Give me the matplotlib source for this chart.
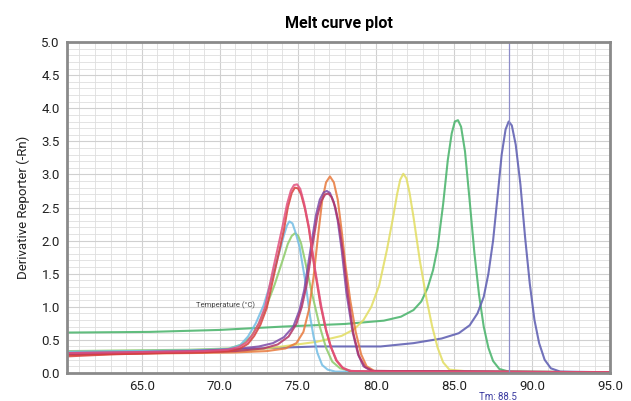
import matplotlib
matplotlib.use("Agg")
import matplotlib.pyplot as plt
from matplotlib.ticker import MultipleLocator

plt.rcParams['font.family'] = ['Roboto', 'DejaVu Sans']

# Melt curves: temperature (°C) vs derivative reporter
temp_pink = [60.2, 63, 66, 69, 70.5, 71.2, 71.7, 72.1, 72.5, 72.9, 73.4, 74.0, 74.3, 74.55, 74.75, 74.95, 75.15, 75.4, 75.7, 76.1, 76.5, 76.8, 77.1, 77.5, 77.9, 78.4, 80, 95]
drv_pink = [0.30, 0.31, 0.32, 0.33, 0.35, 0.39, 0.46, 0.58, 0.75, 1.00, 1.56, 2.20, 2.55, 2.76, 2.84, 2.85, 2.78, 2.56, 2.21, 1.56, 1.00, 0.66, 0.40, 0.18, 0.07, 0.03, 0.02, 0.01]

temp_red = [60.2, 63, 66, 69, 70.6, 71.3, 71.8, 72.2, 72.6, 73.0, 73.5, 74.1, 74.35, 74.6, 74.8, 75.0, 75.2, 75.45, 75.7, 76.05, 76.45, 76.8, 77.1, 77.45, 77.85, 78.3, 80, 95]
drv_red = [0.25, 0.28, 0.30, 0.31, 0.33, 0.37, 0.44, 0.56, 0.73, 0.98, 1.52, 2.16, 2.50, 2.72, 2.80, 2.79, 2.70, 2.48, 2.18, 1.60, 1.02, 0.64, 0.40, 0.19, 0.08, 0.03, 0.02, 0.01]

temp_sky = [60.2, 64, 68, 70.5, 71.3, 71.8, 72.3, 72.8, 73.3, 73.85, 74.1, 74.3, 74.45, 74.65, 74.85, 75.1, 75.46, 75.78, 76.0, 76.25, 76.55, 76.9, 77.4, 95]
drv_sky = [0.32, 0.33, 0.34, 0.36, 0.42, 0.55, 0.75, 1.02, 1.40, 1.86, 2.08, 2.23, 2.29, 2.26, 2.12, 1.91, 1.40, 0.85, 0.55, 0.30, 0.12, 0.05, 0.02, 0.01]

temp_lime = [60.2, 64, 68, 70.6, 71.4, 72.0, 72.5, 73.0, 73.5, 74.1, 74.35, 74.6, 74.8, 75.0, 75.2, 75.45, 75.9, 76.4, 76.8, 77.2, 77.7, 78.5, 95]
drv_lime = [0.33, 0.34, 0.35, 0.37, 0.43, 0.55, 0.75, 1.02, 1.33, 1.76, 1.95, 2.07, 2.11, 2.08, 1.96, 1.70, 1.20, 0.70, 0.38, 0.17, 0.07, 0.02, 0.01]

temp_violet = [60.2, 64, 68, 71, 72.5, 73.4, 74.1, 74.7, 75.1, 75.4, 75.8, 76.15, 76.4, 76.65, 76.85, 77.05, 77.3, 77.55, 77.8, 78.1, 78.5, 78.85, 79.2, 79.7, 95]
drv_violet = [0.30, 0.31, 0.33, 0.36, 0.40, 0.45, 0.54, 0.70, 0.95, 1.25, 1.86, 2.38, 2.62, 2.73, 2.75, 2.72, 2.58, 2.30, 1.86, 1.22, 0.62, 0.28, 0.10, 0.03, 0.01]

temp_crimson = [60.2, 64, 68, 71, 72.8, 73.7, 74.4, 74.9, 75.25, 75.55, 75.9, 76.25, 76.5, 76.75, 76.95, 77.15, 77.4, 77.65, 77.9, 78.2, 78.55, 78.9, 79.3, 79.8, 95]
drv_crimson = [0.28, 0.29, 0.31, 0.33, 0.37, 0.43, 0.55, 0.74, 1.00, 1.32, 1.88, 2.38, 2.60, 2.70, 2.71, 2.66, 2.50, 2.22, 1.80, 1.18, 0.60, 0.26, 0.09, 0.03, 0.01]

temp_orange = [60.2, 64, 68, 71, 73, 74.2, 74.9, 75.35, 75.7, 76.0, 76.3, 76.55, 76.8, 77.05, 77.3, 77.55, 77.8, 78.05, 78.35, 78.7, 79.05, 79.4, 79.9, 95]
drv_orange = [0.27, 0.29, 0.30, 0.31, 0.33, 0.37, 0.45, 0.62, 0.95, 1.45, 2.10, 2.60, 2.88, 2.97, 2.88, 2.62, 2.15, 1.62, 1.10, 0.62, 0.28, 0.10, 0.03, 0.01]

temp_yellow = [60.2, 64, 68, 72, 74, 76.2, 77.8, 78.6, 79.2, 79.7, 80.2, 80.7, 81.1, 81.35, 81.55, 81.75, 81.95, 82.15, 82.4, 82.8, 83.25, 83.6, 83.95, 84.3, 84.7, 86, 95]
drv_yellow = [0.30, 0.31, 0.32, 0.34, 0.40, 0.47, 0.56, 0.66, 0.80, 1.00, 1.32, 1.86, 2.36, 2.70, 2.92, 3.01, 2.94, 2.72, 2.36, 1.71, 1.10, 0.70, 0.38, 0.16, 0.05, 0.02, 0.01]

temp_green = [60.2, 65.5, 70, 74, 78, 80.5, 81.6, 82.4, 82.9, 83.3, 83.65, 83.95, 84.3, 84.6, 84.85, 85.05, 85.25, 85.45, 85.7, 86.0, 86.3, 86.6, 86.9, 87.2, 87.5, 87.9, 88.5, 95]
drv_green = [0.61, 0.62, 0.65, 0.70, 0.74, 0.79, 0.85, 0.95, 1.08, 1.28, 1.55, 1.90, 2.55, 3.22, 3.62, 3.80, 3.82, 3.72, 3.35, 2.60, 1.82, 1.18, 0.70, 0.38, 0.18, 0.06, 0.02, 0.01]

temp_indigo = [60.2, 65, 70, 76.2, 80.3, 82.4, 84.2, 85.3, 86.0, 86.5, 86.9, 87.2, 87.5, 87.8, 88.05, 88.3, 88.5, 88.7, 88.95, 89.25, 89.55, 89.85, 90.15, 90.45, 90.8, 91.2, 91.8, 95]
drv_indigo = [0.30, 0.32, 0.35, 0.40, 0.40, 0.45, 0.52, 0.60, 0.72, 0.90, 1.15, 1.50, 2.00, 2.70, 3.30, 3.68, 3.80, 3.74, 3.45, 2.85, 2.05, 1.35, 0.80, 0.45, 0.20, 0.07, 0.02, 0.01]

tm_value = 88.5
x_ticks = [65.0, 70.0, 75.0, 80.0, 85.0, 90.0, 95.0]
y_ticks = [0.0, 0.5, 1.0, 1.5, 2.0, 2.5, 3.0, 3.5, 4.0, 4.5, 5.0]

curves = [
    (temp_green, drv_green, "#45b268"),
    (temp_indigo, drv_indigo, "#5a5ab0"),
    (temp_yellow, drv_yellow, "#e2dd60"),
    (temp_lime, drv_lime, "#8ccb68"),
    (temp_sky, drv_sky, "#72bce4"),
    (temp_orange, drv_orange, "#e8793c"),
    (temp_violet, drv_violet, "#7d4aa8"),
    (temp_crimson, drv_crimson, "#b23466"),
    (temp_red, drv_red, "#d8403c"),
    (temp_pink, drv_pink, "#e2507e"),
]

fig = plt.figure(figsize=(6.31, 4.01), dpi=100)
ax = fig.add_axes([0.106, 0.070, 0.861, 0.825])

ax.set_xlim(60.2, 95)
ax.set_ylim(0, 5)

# fine grid like the instrument software
ax.xaxis.set_major_locator(MultipleLocator(5))
ax.xaxis.set_minor_locator(MultipleLocator(1))
ax.yaxis.set_major_locator(MultipleLocator(0.5))
ax.yaxis.set_minor_locator(MultipleLocator(0.1))
ax.grid(True, which="major", color="#d0d0d0", linewidth=0.8)
ax.grid(True, which="minor", color="#dedede", linewidth=0.6)
ax.set_axisbelow(True)

for t, d, c in curves:
    ax.plot(t, d, color=c, linewidth=1.5, alpha=0.85, solid_joinstyle="round")

ax.axvline(tm_value, color="#8c8cc8", linewidth=0.9)

ax.set_xticks(x_ticks)
ax.set_xticklabels([f"{v:.1f}" for v in x_ticks])
ax.set_yticks(y_ticks)
ax.set_yticklabels([f"{v:.1f}" for v in y_ticks])
ax.tick_params(which="both", length=0, labelsize=9.5, colors="#222222", pad=5)

for s in ax.spines.values():
    s.set_color("#8a8a8a")
    s.set_linewidth(2)

ax.set_ylabel("Derivative Reporter (-Rn)", fontsize=9.5, color="#222222", labelpad=8)
ax.set_title("Melt curve plot", fontsize=11.5, fontweight="semibold", pad=10)

ax.text(68.5, 1.03, "Temperature (°C)", fontsize=5.5, color="#444444", va="center")
ax.text(87.8, -0.37, f"Tm: {tm_value}", fontsize=7, color="#3a3aa0",
        ha="center", va="center", clip_on=False)

fig.savefig("out.png", dpi=100)
